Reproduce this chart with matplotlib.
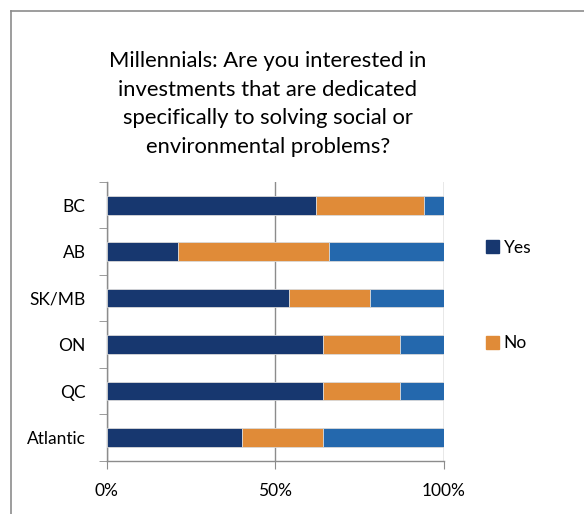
import matplotlib
matplotlib.use('Agg')
import matplotlib.pyplot as plt
from matplotlib.lines import Line2D
from matplotlib.patches import Patch
import numpy as np

plt.rcParams['font.family'] = ['Lato', 'DejaVu Sans']

regions = ['BC', 'AB', 'SK/MB', 'ON', 'QC', 'Atlantic']
yes = [62, 21, 54, 64, 64, 40]
no = [32, 45, 24, 23, 23, 24]
other = [6, 34, 22, 13, 13, 36]
xticks = [0, 50, 100]
xtick_labels = ['0%', '50%', '100%']

c_yes = '#17376f'
c_no = '#e08b38'
c_other = '#2468ad'

fig = plt.figure(figsize=(5.84, 5.14), dpi=100)
W, H = 584, 514

# outer chart border (left and top edges)
fig.add_artist(Line2D([10.5 / W, 10.5 / W], [0, 1 - 11 / H], color='#8c8c8c', lw=1.2))
fig.add_artist(Line2D([10.5 / W, 1], [1 - 11 / H, 1 - 11 / H], color='#8c8c8c', lw=1.2))

ax = fig.add_axes([106.7 / W, 53.3 / H, 337.3 / W, 278.7 / H])

y = np.arange(len(regions))
yes_a, no_a, other_a = np.array(yes), np.array(no), np.array(other)
kw = dict(height=0.4, edgecolor='#d9d9d9', linewidth=0.6, zorder=3)
ax.barh(y, yes_a, color=c_yes, label='Yes', **kw)
ax.barh(y, no_a, left=yes_a, color=c_no, label='No', **kw)
ax.barh(y, other_a, left=yes_a + no_a, color=c_other, **kw)

ax.set_xlim(0, 100)
ax.set_ylim(len(regions) - 0.5, -0.5)
ax.set_xticks(xticks)
ax.set_xticklabels(xtick_labels, fontsize=12.5)
ax.set_yticks(y)
ax.set_yticklabels(regions, fontsize=12.5)
ax.set_yticks(np.arange(-0.5, len(regions)), minor=True)
ax.tick_params(axis='y', which='major', length=0, pad=15)
ax.tick_params(axis='y', which='minor', length=6, color='#8c8c8c', direction='out')
ax.tick_params(axis='x', length=6, color='#8c8c8c', pad=10)
ax.grid(axis='x', color='#8c8c8c', linewidth=1, zorder=0)
for s in ['top', 'right']:
    ax.spines[s].set_visible(False)
for s in ['left', 'bottom']:
    ax.spines[s].set_color('#8c8c8c')
    ax.spines[s].set_linewidth(1)

handles = [Patch(color=c_yes), Patch(color=c_no)]
fig.legend(handles, ['Yes', 'No'], loc='upper left', bbox_to_anchor=(470 / W, 1 - 224 / H),
           frameon=False, fontsize=12.5, handlelength=0.75, handleheight=0.75,
           handletextpad=0.3, labelspacing=4.6)

fig.text(268 / W, 1 - 104 / H,
         'Millennials: Are you interested in\ninvestments that are dedicated\n'
         'specifically to solving social or\nenvironmental problems?',
         ha='center', va='center', fontsize=15.8, linespacing=1.55)

fig.savefig('out.png', dpi=100)
